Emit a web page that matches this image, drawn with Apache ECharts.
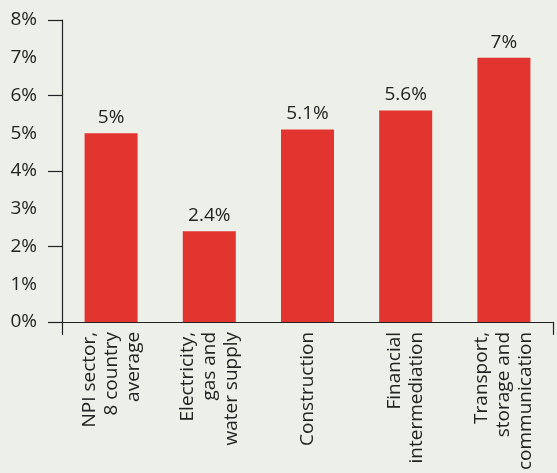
<!DOCTYPE html>
<html><head><meta charset="utf-8">
<script src="https://cdn.jsdelivr.net/npm/echarts@6/dist/echarts.min.js"></script>
<style>html,body{margin:0;padding:0;background:#edefe9;}#c{width:557px;height:473px;}</style>
</head><body><div id="c"></div>
<script>
var categories = ['NPI sector,\n8 country\naverage', 'Electricity,\ngas and\nwater supply', 'Construction', 'Financial\nintermediation', 'Transport,\nstorage and\ncommunication'];
var values = [5, 2.4, 5.1, 5.6, 7];
var yMin = 0, yMax = 8, labelStep = 1, tickStep = 2;
var chart = echarts.init(document.getElementById('c'));
var txt = '#232323';
var font = 'Open Sans';
chart.setOption({
  backgroundColor: '#edefe9',
  animation: false,
  grid: {left: 62, right: 4, top: 20, bottom: 151, containLabel: false},
  xAxis: {
    type: 'category', data: categories,
    axisLine: {lineStyle: {color: '#222', width: 1.2}},
    axisTick: {show: true, length: 13, lineStyle: {color: '#222', width: 1.2},
      interval: function (i) { return i === 0; }},
    axisLabel: {rotate: 90, color: txt, fontFamily: font, fontSize: 19, lineHeight: 22, margin: 10, interval: 0}
  },
  yAxis: [{
    type: 'value', min: yMin, max: yMax, interval: labelStep, position: 'left',
    axisLine: {show: true, lineStyle: {color: '#222', width: 1.2}},
    axisTick: {show: false},
    splitLine: {show: false},
    axisLabel: {color: txt, fontFamily: font, fontSize: 19, margin: 25, formatter: '{value}%'}
  }, {
    type: 'value', min: yMin, max: yMax, interval: tickStep, position: 'left',
    axisLine: {show: false},
    axisTick: {show: true, length: 14, lineStyle: {color: '#222', width: 1.2}},
    splitLine: {show: false},
    axisLabel: {show: false}
  }],
  series: [{
    type: 'bar', data: values, barCategoryGap: '46%',
    itemStyle: {color: '#e2352f'},
    label: {show: true, position: 'top', distance: 6, color: txt, fontFamily: font, fontSize: 19, formatter: '{c}%'}
  }]
});
</script></body></html>
